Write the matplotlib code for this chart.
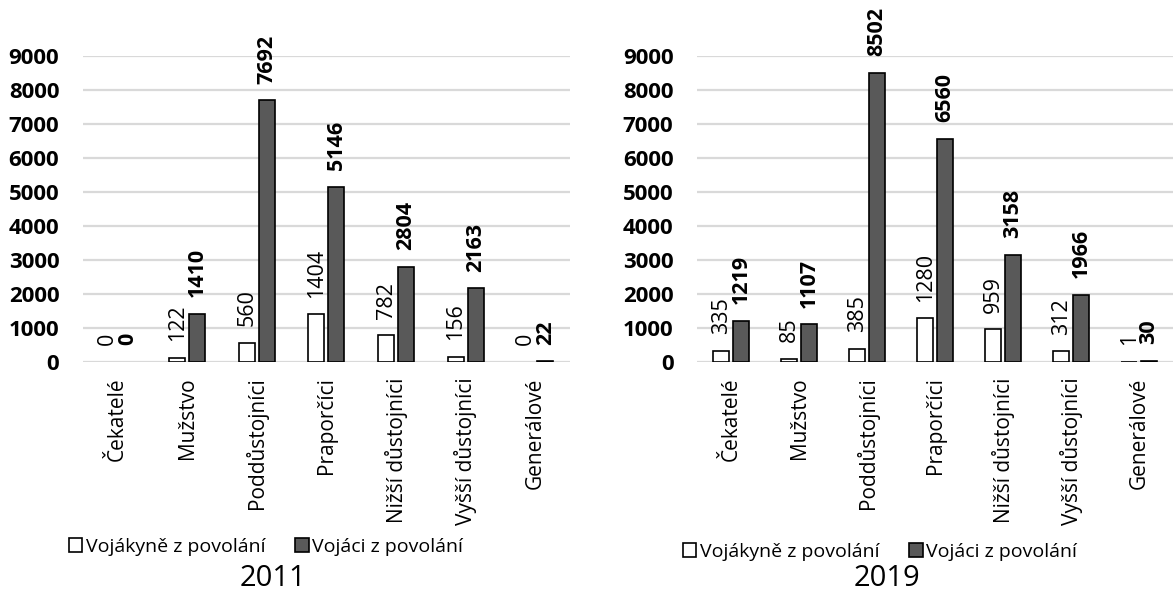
import numpy as np
import matplotlib.pyplot as plt
from matplotlib.patches import Patch

plt.rcParams['font.family'] = ['Open Sans', 'DejaVu Sans']

# Data
kategorie = ['Čekatelé', 'Mužstvo', 'Poddůstojníci', 'Praporčíci',
             'Nižší důstojníci', 'Vyšší důstojníci', 'Generálové']
zeny_2011 = [0, 122, 560, 1404, 782, 156, 0]
muzi_2011 = [0, 1410, 7692, 5146, 2804, 2163, 22]
zeny_2019 = [335, 85, 385, 1280, 959, 312, 1]
muzi_2019 = [1219, 1107, 8502, 6560, 3158, 1966, 30]
yticks = [0, 1000, 2000, 3000, 4000, 5000, 6000, 7000, 8000, 9000]

serie = ['Vojákyně z povolání', 'Vojáci z povolání']
barvy = ['white', '#595959']

fig = plt.figure(figsize=(11.75, 5.92), dpi=100)
ax1 = fig.add_axes([0.0706, 0.3885, 0.4145, 0.5169])
ax2 = fig.add_axes([0.5932, 0.3885, 0.4051, 0.5169])

bw = 0.23
off = 0.144


def kresli(ax, zeny, muzi):
    x = np.arange(len(kategorie))
    b1 = ax.bar(x - off, zeny, bw, color=barvy[0], edgecolor='black', linewidth=1.2, zorder=3)
    b2 = ax.bar(x + off, muzi, bw, color=barvy[1], edgecolor='black', linewidth=1.2, zorder=3)
    # nulove sloupce se v originale nekresli
    for r, v in list(zip(b1, zeny)) + list(zip(b2, muzi)):
        if v == 0:
            r.set_linewidth(0)
    for r, v in zip(b1, zeny):
        ax.annotate(str(v), (r.get_x() + r.get_width() / 2, v), xytext=(0, 12),
                    textcoords='offset points', rotation=90, ha='center', va='bottom',
                    fontsize=15.5)
    for r, v in zip(b2, muzi):
        ax.annotate(str(v), (r.get_x() + r.get_width() / 2, v), xytext=(0, 12),
                    textcoords='offset points', rotation=90, ha='center', va='bottom',
                    fontsize=15.5, fontweight='bold')
    ax.set_xlim(-0.5, len(kategorie) - 0.5)
    ax.set_ylim(0, 9000)
    ax.set_yticks(yticks)
    ax.set_yticklabels([str(t) for t in yticks], fontsize=16, fontweight='bold')
    ax.set_xticks(x)
    ax.set_xticklabels(kategorie, rotation=90, fontsize=15, va='top')
    ax.tick_params(axis='y', length=0, pad=17)
    ax.tick_params(axis='x', length=0, pad=11)
    ax.grid(axis='y', color='#d9d9d9', linewidth=1.6, zorder=0)
    for s in ax.spines.values():
        s.set_visible(False)


kresli(ax1, zeny_2011, muzi_2011)
kresli(ax2, zeny_2019, muzi_2019)

handles = [Patch(facecolor=barvy[0], edgecolor='black', linewidth=1.2),
           Patch(facecolor=barvy[1], edgecolor='black', linewidth=1.2)]
for cx, cy in [(0.2264, 0.076), (0.749, 0.0676)]:
    fig.legend(handles, serie, loc='center', bbox_to_anchor=(cx, cy), ncol=2,
               frameon=False, fontsize=14, handlelength=0.7, handleheight=0.7,
               handletextpad=0.2, columnspacing=1.5, borderpad=0)

fig.text(0.2323, 0.0236, '2011', ha='center', va='center', fontsize=21)
fig.text(0.755, 0.0236, '2019', ha='center', va='center', fontsize=21)

plt.savefig('out.png', dpi=100)
